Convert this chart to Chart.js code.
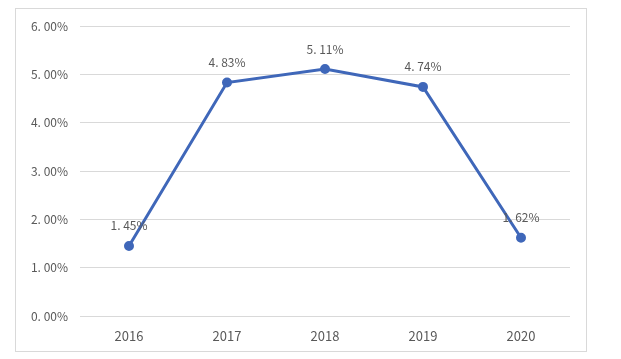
<!DOCTYPE html>
<html><head><meta charset="utf-8">
<script src="https://cdn.jsdelivr.net/npm/chart.js@4/dist/chart.umd.min.js"></script>
<style>html,body{margin:0;padding:0;background:#fff}#wrap{width:621px;height:359px}</style>
</head><body><div id="wrap"><canvas id="c" width="621" height="359"></canvas></div>
<script>
const categories = ['2016', '2017', '2018', '2019', '2020'];
const values = [1.45, 4.83, 5.11, 4.74, 1.62];
const valueLabels = ['1. 45%', '4. 83%', '5. 11%', '4. 74%', '1. 62%'];
const yTickLabels = ['0. 00%', '1. 00%', '2. 00%', '3. 00%', '4. 00%', '5. 00%', '6. 00%'];

const FONT = '"Noto Sans CJK SC", "Noto Sans", sans-serif';

const frame = {
  id: 'frame',
  beforeDraw(chart) {
    const ctx = chart.ctx;
    ctx.save();
    ctx.fillStyle = '#fff';
    ctx.fillRect(0, 0, chart.width, chart.height);
    ctx.strokeStyle = '#d9d9d9';
    ctx.lineWidth = 1;
    ctx.strokeRect(15.5, 8.5, 571, 343);
    ctx.restore();
  }
};
const labelsPlugin = {
  id: 'vlabels',
  afterDatasetsDraw(chart) {
    const ctx = chart.ctx;
    const meta = chart.getDatasetMeta(0);
    ctx.save();
    ctx.font = '12px ' + FONT;
    ctx.fillStyle = '#595959';
    ctx.textAlign = 'center';
    ctx.textBaseline = 'middle';
    meta.data.forEach((pt, i) => {
      ctx.fillText(valueLabels[i], pt.x, pt.y - 20);
    });
    ctx.restore();
  }
};

new Chart(document.getElementById('c'), {
  type: 'line',
  data: {
    labels: categories,
    datasets: [{
      data: values,
      borderColor: '#3f67b9',
      backgroundColor: '#3f67b9',
      borderWidth: 3,
      pointRadius: 3.5,
      pointHoverRadius: 3.5,
      tension: 0,
      fill: false
    }]
  },
  options: {
    responsive: false,
    animation: false,
    events: [],
    layout: { padding: { left: 0, right: 51, top: 26, bottom: 0 } },
    plugins: { legend: { display: false }, tooltip: { enabled: false } },
    scales: {
      x: {
        offset: true,
        grid: { display: false },
        border: { display: false },
        ticks: { color: '#595959', font: { size: 13, family: FONT }, padding: 4 },
        afterFit(s) { s.height = 43; }
      },
      y: {
        min: 0, max: 6,
        ticks: {
          stepSize: 1,
          color: '#595959',
          font: { size: 12, family: FONT },
          padding: 12,
          callback: (v) => yTickLabels[Math.round(v)]
        },
        grid: { color: '#d9d9d9', lineWidth: 1, drawTicks: false },
        border: { display: false },
        afterFit(s) { s.width = 80; }
      }
    }
  },
  plugins: [frame, labelsPlugin]
});
</script>
</body></html>
